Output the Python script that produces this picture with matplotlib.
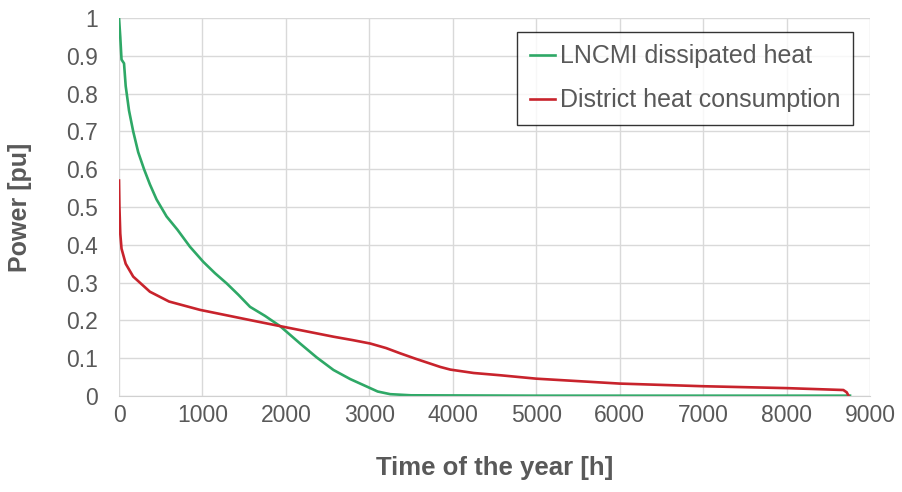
import numpy as np
import matplotlib.pyplot as plt

plt.rcParams['font.family'] = ['Liberation Sans', 'DejaVu Sans']

# Load duration curves (hours, per-unit power)
green_hours = [0, 15, 30, 60, 80, 120, 170, 230, 300, 370, 450, 570, 700, 850, 1010,
               1150, 1290, 1430, 1570, 1750, 1930, 2170, 2370, 2570, 2770, 2970, 3100,
               3250, 3500, 5000, 8760]
green_power = [1.0, 0.95, 0.89, 0.88, 0.82, 0.755, 0.70, 0.645, 0.60, 0.56, 0.52, 0.475,
               0.44, 0.395, 0.355, 0.325, 0.298, 0.268, 0.236, 0.212, 0.185, 0.139,
               0.102, 0.069, 0.045, 0.025, 0.012, 0.005, 0.002, 0.001, 0.001]

red_hours = [0, 5, 15, 30, 80, 170, 370, 600, 970, 1570, 1930, 2570, 2800, 3010, 3200,
             3370, 3550, 3700, 3850, 3970, 4250, 4570, 5000, 6000, 7000, 8000, 8680,
             8720, 8745]
red_power = [0.57, 0.50, 0.43, 0.39, 0.35, 0.316, 0.276, 0.25, 0.228, 0.201, 0.185,
             0.157, 0.148, 0.139, 0.127, 0.113, 0.099, 0.088, 0.077, 0.070, 0.061,
             0.055, 0.046, 0.033, 0.026, 0.021, 0.016, 0.01, 0.0]

x_ticks = [0, 1000, 2000, 3000, 4000, 5000, 6000, 7000, 8000, 9000]
y_ticks = [0, 0.1, 0.2, 0.3, 0.4, 0.5, 0.6, 0.7, 0.8, 0.9, 1]
y_labels = ["0", "0.1", "0.2", "0.3", "0.4", "0.5", "0.6", "0.7", "0.8", "0.9", "1"]

txt = "#595959"
fig = plt.figure(figsize=(9.03, 4.92), dpi=100)
ax = fig.add_axes([0.1318, 0.195, 0.8317, 0.7684])

ax.plot(green_hours, green_power, color="#2ea866", lw=1.9, label="LNCMI dissipated heat")
ax.plot(red_hours, red_power, color="#c8232c", lw=1.9, label="District heat consumption")

ax.set_xlim(0, 9000)
ax.set_ylim(0, 1)
ax.set_xticks(x_ticks)
ax.set_yticks(y_ticks)
ax.set_yticklabels(y_labels)
ax.tick_params(length=0, labelsize=16.5, colors=txt)
ax.tick_params(axis="y", pad=15)
ax.tick_params(axis="x", pad=6)
ax.grid(True, color="#d9d9d9", lw=1)
ax.set_axisbelow(True)
for s in ["top", "right", "left"]:
    ax.spines[s].set_visible(False)
ax.spines["bottom"].set_color("#d0d0d0")

ax.set_xlabel("Time of the year [h]", fontsize=18.5, fontweight="bold", color=txt, va="center")
ax.set_ylabel("Power [pu]", fontsize=18, fontweight="bold", color=txt, va="center")
ax.xaxis.set_label_coords(0.5, -0.19)
ax.yaxis.set_label_coords(-0.132, 0.5)

leg = ax.legend(loc="upper right", bbox_to_anchor=(0.977, 0.963), fontsize=18,
                frameon=True, fancybox=False, edgecolor="black", handlelength=1.0,
                handletextpad=0.2, borderpad=0.5, borderaxespad=0,
                labelspacing=0.8, labelcolor=txt)
leg.get_frame().set_linewidth(1.0)

fig.savefig("out.png", dpi=100)
